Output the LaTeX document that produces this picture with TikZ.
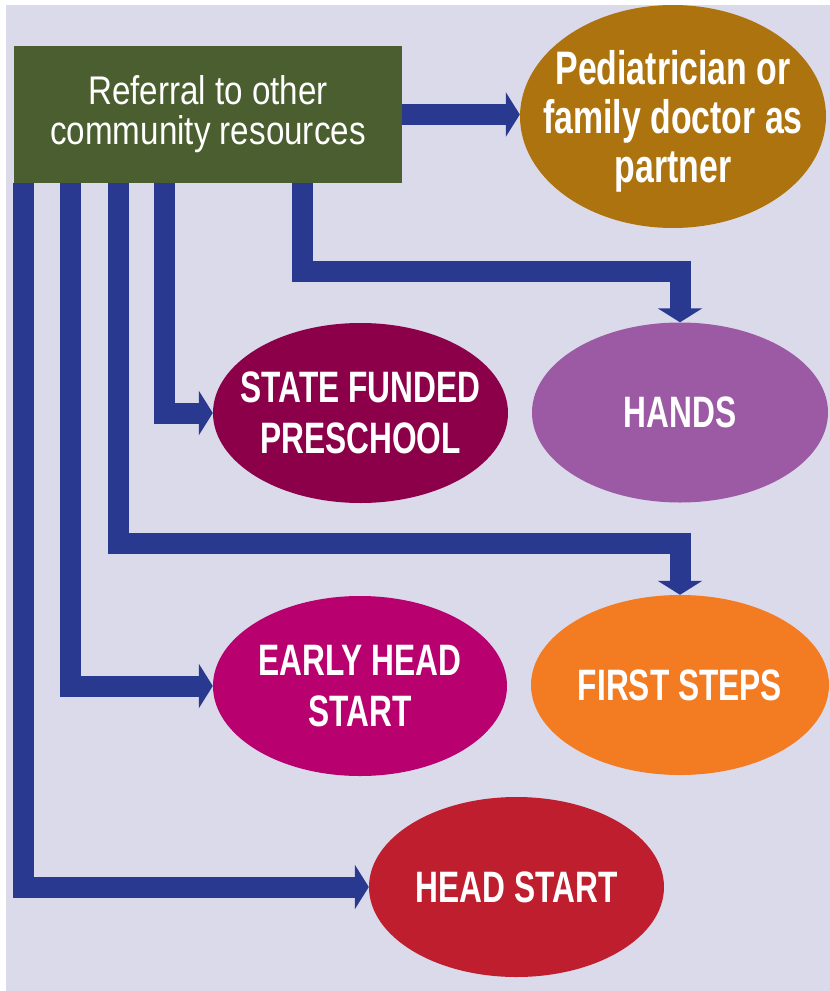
\documentclass[tikz,border=0pt]{standalone}
\usepackage{fontspec}
\newfontfamily\condR[FakeStretch=0.83]{Liberation Sans}
\newfontfamily\condB[FakeStretch=0.72]{Liberation Sans}
\usetikzlibrary{shapes.geometric,arrows.meta}
\definecolor{bgcol}{HTML}{DBDAEB}
\definecolor{arrowblue}{HTML}{28398F}
\definecolor{boxgreen}{HTML}{4A5E2F}
\definecolor{pedcol}{HTML}{AD730E}
\definecolor{handscol}{HTML}{9C5AA4}
\definecolor{sfpcol}{HTML}{8C004A}
\definecolor{fscol}{HTML}{F37B22}
\definecolor{ehscol}{HTML}{B8006E}
\definecolor{hscol}{HTML}{BE1E2D}
\begin{document}
\begin{tikzpicture}[x=1pt,y=-1pt,
  conn/.style={draw=arrowblue, line width=21pt, line join=miter,
    -{Triangle[length=14pt,width=44pt]}},
  oval/.style={ellipse, minimum width=296pt, minimum height=180pt,
    inner xsep=-130pt, inner ysep=-80pt, text=white, align=center,
    font=\condB\bfseries\fontsize{44}{51}\selectfont}]
\useasboundingbox (0,0) rectangle (830,991);
\fill[white] (0,0) rectangle (830,991);
\fill[bgcol] (6,5) rectangle (830,991);

\node[fill=boxgreen, minimum width=388pt, minimum height=137pt, inner sep=0pt,
  text=white, align=center, font=\condR\fontsize{40}{40}\selectfont]
  (box) at (208,114.5) {Referral to other\\community resources};
\node[oval, fill=pedcol, minimum width=306pt, minimum height=223pt,
  text depth=0pt, font=\condB\bfseries\fontsize{47}{49}\selectfont]
  (ped) at (673,116.5) {Pediatrician or\\family doctor as\\partner};
\node[oval, fill=handscol] (hands) at (680,412.5) {HANDS};
\node[oval, fill=sfpcol, minimum width=295pt] (sfp) at (360.5,413) {STATE FUNDED\\PRESCHOOL};
\node[oval, fill=fscol, minimum width=298pt] (fs) at (680,685) {FIRST STEPS};
\node[oval, fill=ehscol, minimum width=294pt] (ehs) at (360,686) {EARLY HEAD\\START};
\node[oval, fill=hscol, minimum width=295pt] (hs) at (516.5,887) {HEAD START};

\coordinate (s1) at ([xshift=10pt]box.south west);
\coordinate (s2) at ([xshift=57pt]box.south west);
\coordinate (s3) at ([xshift=105pt]box.south west);
\coordinate (s4) at ([xshift=151pt]box.south west);
\coordinate (s5) at ([xshift=289pt]box.south west);

\draw[conn] (box.east) -- (box.east -| ped.west);
\draw[conn] (s5) |- ([yshift=51pt]hands.north) -| (hands.north);
\draw[conn] (s4) |- (sfp.west);
\draw[conn] (s3) |- ([yshift=51pt]fs.north) -| (fs.north);
\draw[conn] (s2) |- (ehs.west);
\draw[conn] (s1) |- (hs.west);
\end{tikzpicture}
\end{document}
